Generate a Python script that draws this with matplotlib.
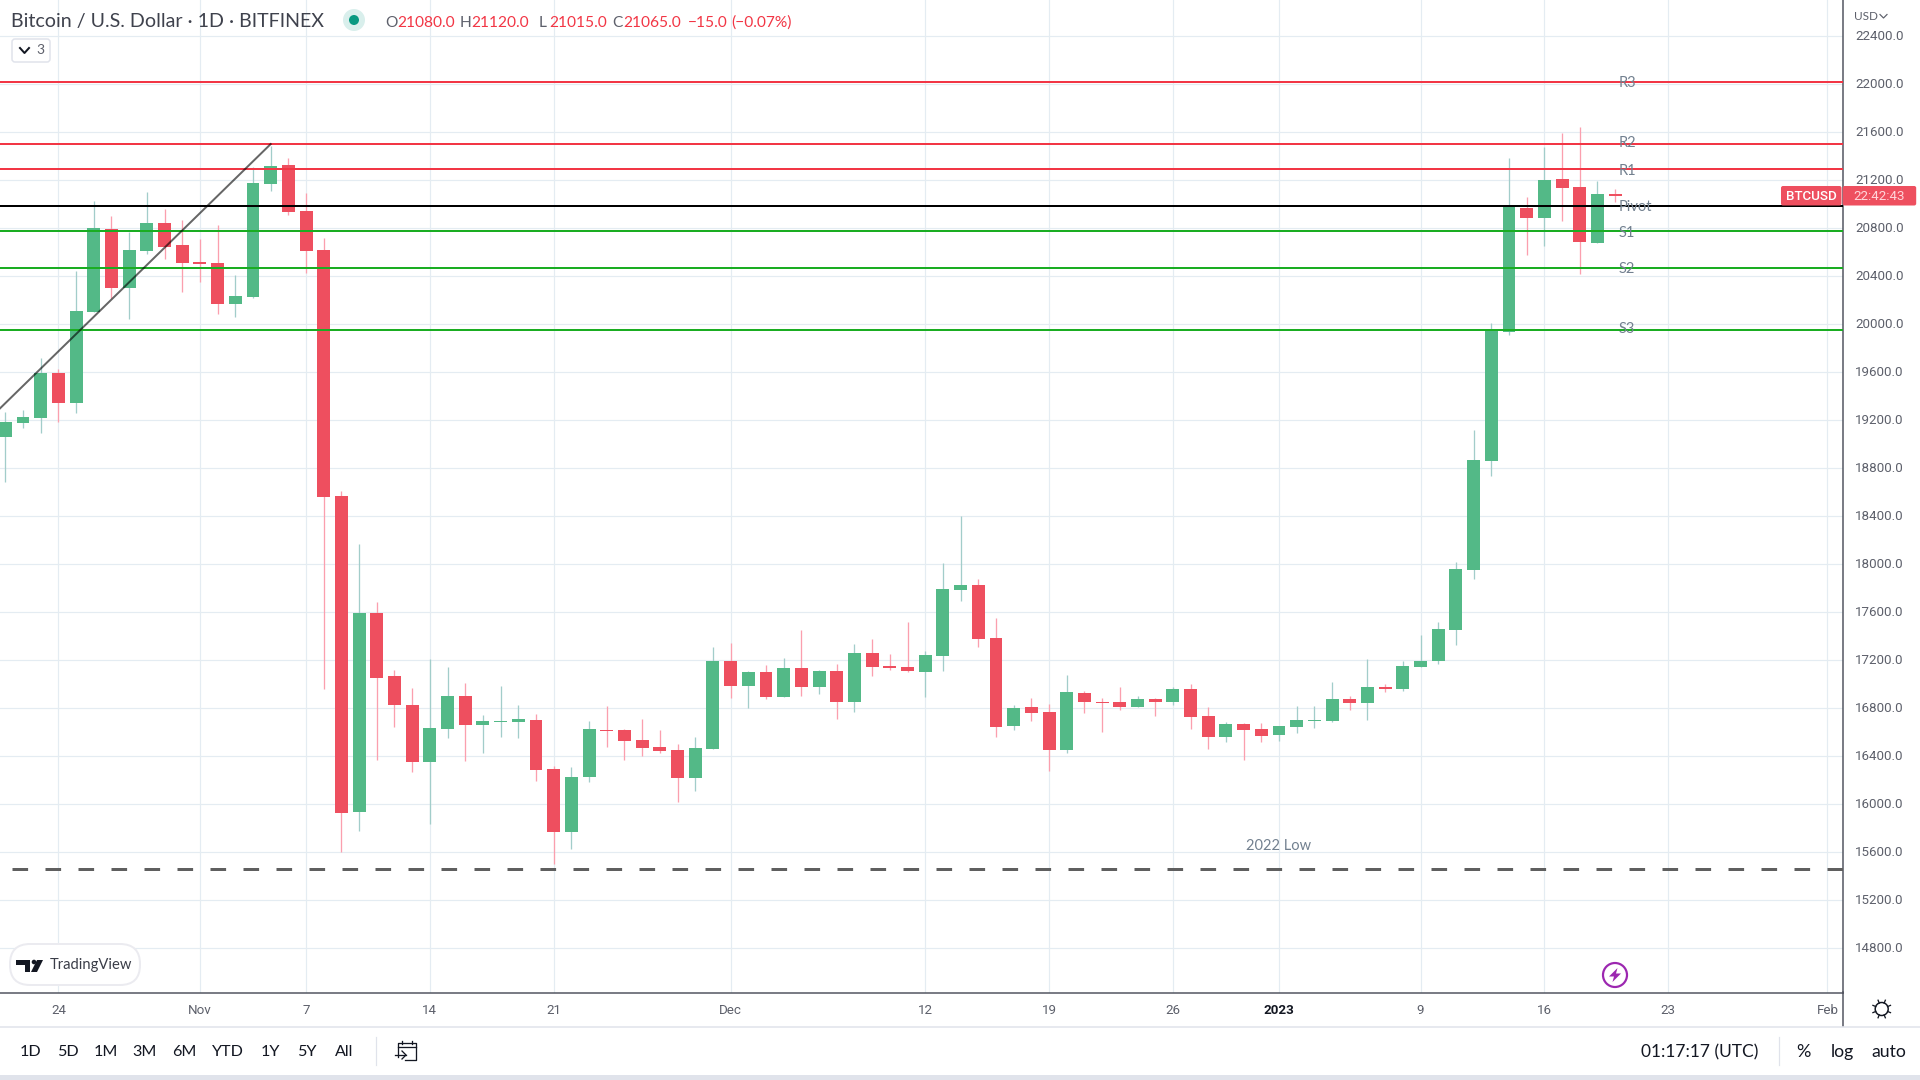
import matplotlib
matplotlib.use('Agg')
import matplotlib.pyplot as plt
import matplotlib.dates as mdates
import matplotlib.transforms as mtransforms
import numpy as np
import pandas as pd
from matplotlib.patches import Circle, FancyBboxPatch, Polygon, Rectangle

# daily candles, BTC/USD Bitfinex
first_day = '2022-10-21'
opens = [19058, 19175, 19217, 19589, 19342, 20097, 20789, 20297, 20606, 20839, 20656, 20514, 20506, 20164, 20222,
         21164, 21322, 20939, 20614, 18564, 15931, 17589, 17064, 16822, 16347, 16622, 16897, 16656, 16681, 16681,
         16697, 16289, 15764, 16222, 16614, 16614, 16531, 16472, 16447, 16214, 16456, 17189, 16981, 17097, 16889,
         17131, 16972, 17106, 16847, 17256, 17147, 17139, 17097, 17231, 17781, 17822, 17381, 16647, 16806, 16764,
         16447, 16922, 16847, 16847, 16806, 16872, 16847, 16956, 16731, 16556, 16664, 16622, 16572, 16639, 16689,
         16689, 16872, 16839, 16972, 16956, 17139, 17189, 17447, 17947, 18856, 19933, 20964, 20881, 21206, 21139,
         20672, 21080]
highs = [19264, 19281, 19711, 19622, 20439, 21022, 20897, 20767, 21097, 20956, 20864, 20706, 20822, 20406, 21303,
         21481, 21381, 21089, 20714, 18606, 18164, 17681, 17114, 16964, 17206, 17139, 17006, 16739, 16981, 16822,
         16747, 16314, 16306, 16689, 16814, 16622, 16706, 16614, 16497, 16556, 17306, 17339, 17106, 17156, 17214,
         17447, 17114, 17164, 17331, 17372, 17247, 17514, 17272, 18006, 18397, 17872, 17547, 16822, 16881, 16831,
         17072, 16939, 16881, 16972, 16897, 16881, 16972, 16997, 16806, 16681, 16672, 16672, 16647, 16814, 16814,
         17014, 16897, 17206, 16997, 17189, 17406, 17514, 18014, 19114, 20006, 21381, 21056, 21472, 21589, 21639,
         21189, 21120]
lows = [18683, 19131, 19092, 19183, 19258, 20097, 20211, 20042, 20581, 20539, 20264, 20347, 20081, 20056, 20214,
        21106, 20906, 20422, 16959, 15600, 15775, 16364, 16639, 16264, 15831, 16547, 16356, 16422, 16556, 16547,
        16189, 15497, 15622, 16181, 16472, 16364, 16397, 16422, 16014, 16106, 16456, 16881, 16797, 16872, 16889,
        16897, 16914, 16706, 16764, 17064, 17114, 17097, 16889, 17106, 17689, 17306, 16556, 16614, 16689, 16272,
        16422, 16756, 16597, 16781, 16806, 16731, 16822, 16622, 16456, 16514, 16364, 16514, 16522, 16589, 16631,
        16681, 16781, 16697, 16931, 16939, 17139, 17164, 17322, 17872, 18731, 19906, 20572, 20647, 20856, 20414,
        20672, 21015]
closes = [19181, 19222, 19589, 19342, 20106, 20797, 20297, 20614, 20839, 20639, 20506, 20497, 20164, 20231, 21172,
          21314, 20931, 20606, 18559, 15925, 17589, 17047, 16822, 16347, 16631, 16897, 16656, 16689, 16689, 16706,
          16281, 15764, 16222, 16622, 16606, 16522, 16464, 16439, 16214, 16464, 17189, 16981, 17097, 16889, 17131,
          16972, 17106, 16847, 17256, 17139, 17131, 17106, 17239, 17789, 17822, 17372, 16639, 16797, 16756, 16447,
          16931, 16847, 16839, 16806, 16872, 16847, 16956, 16722, 16556, 16664, 16614, 16564, 16647, 16697, 16697,
          16872, 16839, 16972, 16956, 17147, 17189, 17456, 17956, 18864, 19948, 20981, 20881, 21197, 21131, 20681,
          21081, 21065]

level_names = ['R3', 'R2', 'R1', 'Pivot', 'S1', 'S2', 'S3']
level_prices = [22017, 21497, 21289, 20981, 20773, 20464, 19947]
level_colors = ['#f23645', '#f23645', '#f23645', '#000000', '#1aad22', '#1aad22', '#1aad22']
level_text_offset = [1, -1, 2, 1, 2, 1, -1]
low_2022 = 15453

price_ticks = list(range(14800, 22800, 400))
date_ticks = ['2022-10-24', '2022-11-01', '2022-11-07', '2022-11-14', '2022-11-21', '2022-12-01', '2022-12-12',
              '2022-12-19', '2022-12-26', '2023-01-01', '2023-01-09', '2023-01-16', '2023-01-23', '2023-02-01']
date_labels = ['24', 'Nov', '7', '14', '21', 'Dec', '12', '19', '26', '2023', '9', '16', '23', 'Feb']

GREEN = '#53b987'
RED = '#ee4f5f'
GREEN_WICK = '#a2cdca'
RED_WICK = '#fb9fae'
GRID = '#e4ecf2'
AXIS = '#50535e'
LABEL = '#72808f'
TEXT = '#5d606b'
DARK = '#131722'
PX = 72 / 100

plt.rcParams['font.family'] = ['Roboto', 'DejaVu Sans']

fig = plt.figure(figsize=(19.2, 10.8), dpi=100, facecolor='white')
ax = fig.add_axes([0, 1 - 992.5 / 1080, 1843 / 1920, 992.5 / 1080])

x = mdates.date2num(pd.date_range(first_day, periods=len(opens)))
o = np.array(opens)
c = np.array(closes)
up = c >= o
x0 = mdates.date2num(pd.Timestamp('2022-10-24'))

ax.vlines(x[up], np.array(lows)[up], np.array(highs)[up], color=GREEN_WICK, lw=1.3 * PX, zorder=3)
ax.vlines(x[~up], np.array(lows)[~up], np.array(highs)[~up], color=RED_WICK, lw=1.3 * PX, zorder=3)
ax.bar(x[up], (c - o)[up], bottom=o[up], width=0.73, color=GREEN, lw=0, zorder=4)
ax.bar(x[~up], (o - c)[~up], bottom=c[~up], width=0.73, color=RED, lw=0, zorder=4)

for price, col in zip(level_prices, level_colors):
    ax.axhline(price, color=col, lw=2 * PX, zorder=5)
for name, price, off in zip(level_names, level_prices, level_text_offset):
    ax.annotate(name, (x0 + 88.2, price), xytext=(0, -off * PX), textcoords='offset points', va='center', ha='left',
                color=LABEL, fontsize=10.5, family='Lato', zorder=6)

ax.axhline(low_2022, color='#5f5f5f', lw=3 * PX, linestyle=(7, (5.2, 5.8)), zorder=5)
ax.text(x0 + 68.95, 15645, '2022 Low', color=LABEL, fontsize=10.5, family='Lato', ha='center', va='center')

# trend line up to the November high
ax.plot([x0 - 3.3, x0 + 12], [19295, 21497], color='#000000', alpha=0.6, lw=2 * PX, zorder=6)

ax.set_xlim(x0 - 3.3, x0 + 100.88)
ax.set_ylim(14428, 22697.5)
ax.set_yticks(price_ticks)
ax.set_yticklabels(['%.1f' % p for p in price_ticks])
ax.set_xticks(mdates.date2num(pd.to_datetime(date_ticks)))
ax.set_xticklabels(date_labels)
ax.yaxis.tick_right()
ax.tick_params(axis='both', length=0, colors=TEXT, labelsize=9.6)
ax.tick_params(axis='x', pad=8.2)
ax.tick_params(axis='y', pad=8.6)
ax.get_xticklabels()[9].set_fontweight('bold')
ax.get_xticklabels()[9].set_color(DARK)
nudge = mtransforms.ScaledTranslation(0, 1.2 / 100, fig.dpi_scale_trans)
for lab in ax.get_yticklabels():
    lab.set_transform(lab.get_transform() + nudge)
ax.grid(True, color=GRID, lw=1.2 * PX, zorder=0)
ax.set_axisbelow(True)
for side in ['top', 'left']:
    ax.spines[side].set_visible(False)
for side in ['right', 'bottom']:
    ax.spines[side].set_color(AXIS)
    ax.spines[side].set_linewidth(1.5 * PX)

# page furniture around the chart, in pixel coordinates
ui = fig.add_axes([0, 0, 1, 1], facecolor='none')
ui.set_xlim(0, 1920)
ui.set_ylim(1080, 0)
ui.axis('off')

ui.text(11, 22, 'Bitcoin / U.S. Dollar · 1D · BITFINEX', family='Lato', fontsize=14.1, color='#3f424d', va='center')
ui.add_patch(Circle((354, 20), 11, color='#d9efec', lw=0))
ui.add_patch(Circle((354, 20), 5, color='#089981', lw=0))

ohlc_x = [385, 397, 460, 471, 539, 549, 612, 623, 688, 731]
ohlc_text = ['O', '21080.0', 'H', '21120.0', 'L', '21015.0', 'C', '21065.0', '−15.0', '(−0.07%)']
for i in range(len(ohlc_x)):
    col = TEXT if ohlc_text[i] in 'OHLC' else '#f23645'
    ui.text(ohlc_x[i], 23, ohlc_text[i], fontsize=11.2, color=col, va='center', family='Lato')

ui.add_patch(FancyBboxPatch((12, 39), 38, 23, boxstyle='round,pad=0,rounding_size=3', fc='white', ec='#e0e3eb',
                            lw=1.5 * PX))
ui.plot([20, 24.5, 29], [48, 53, 48], color=DARK, lw=2 * PX)
ui.text(40, 50, '3', fontsize=10, color=TEXT, ha='center', va='center', family='Lato')

ui.text(1854, 16, 'USD', fontsize=8.5, color=TEXT, va='center', family='Lato')
ui.plot([1880, 1883.5, 1887], [14.5, 18, 14.5], color=TEXT, lw=1.2 * PX)

ui.add_patch(FancyBboxPatch((1781, 186), 60.5, 19.5, boxstyle='round,pad=0,rounding_size=2', fc=RED, ec='none'))
ui.add_patch(FancyBboxPatch((1842.7, 186), 73.5, 19.5, boxstyle='round,pad=0,rounding_size=2', fc=RED, ec='none'))
ui.text(1811, 196, 'BTCUSD', fontsize=9.6, color='white', ha='center', va='center', weight='medium')
ui.text(1879, 196, '22:42:43', fontsize=9.6, color='#ffd5da', ha='center', va='center')

# TradingView badge
ui.add_patch(FancyBboxPatch((10, 944), 130, 41, boxstyle='round,pad=0,rounding_size=20', fc='white', ec='#ebebf0',
                            lw=2 * PX, zorder=5))
ui.add_patch(Polygon([(16, 960), (30, 960), (30, 972), (25, 972), (25, 964.5), (16, 964.5)], fc=DARK, ec='none',
                     zorder=6))
ui.add_patch(Circle((34, 962), 2.3, fc=DARK, ec='none', zorder=6))
ui.add_patch(Polygon([(37, 960), (43, 960), (37, 972), (31, 972)], fc=DARK, ec='none', zorder=6))
ui.text(50, 965.5, 'TradingView', fontsize=10.6, color='#3a3d48', va='center', family='Lato', zorder=6)

# lightning marker
ui.add_patch(Circle((1615, 975), 12, fc='white', ec='#9c27b0', lw=2.2 * PX))
ui.add_patch(Polygon([(1617.5, 968), (1609, 976.5), (1614, 976.5), (1612.5, 982), (1621, 973.5), (1616, 973.5)],
                     fc='#9c27b0', ec='none'))

# settings wheel on the axis corner
ui.add_patch(Circle((1881.7, 1009), 6.5, fc='white', ec=DARK, lw=1.5 * PX))
for a in np.arange(0, 360, 45):
    r = np.radians(a + 22.5)
    ui.plot([1881.7 + 6.5 * np.cos(r), 1881.7 + 9.5 * np.cos(r)], [1009 + 6.5 * np.sin(r), 1009 + 9.5 * np.sin(r)],
            color=DARK, lw=1.3 * PX)

# bottom toolbar
ui.plot([1843, 1843], [992, 1026], color=AXIS, lw=1.5 * PX)
ui.plot([0, 1920], [1026.5, 1026.5], color='#e0e3eb', lw=1.5 * PX)
ui.add_patch(Rectangle((0, 1075), 1920, 5, fc='#e0e3eb', ec='none'))
ui.plot([375.5, 375.5], [1037, 1065], color='#e0e3eb', lw=1.2 * PX)
ui.plot([1779, 1779], [1037, 1065], color='#e0e3eb', lw=1.2 * PX)

range_names = ['1D', '5D', '1M', '3M', '6M', 'YTD', '1Y', '5Y', 'All']
range_x = [30.6, 67.8, 106, 145, 184, 228, 270.6, 307, 344]
for name, pos in zip(range_names, range_x):
    ui.text(pos, 1051.5, name, fontsize=11.6, color=DARK, ha='center', va='center', family='Lato')

ui.plot([398, 398, 416, 416, 405], [1057, 1043, 1043, 1060, 1060], color=DARK, lw=1.3 * PX)
ui.plot([398, 416], [1047, 1047], color=DARK, lw=1.3 * PX)
ui.plot([402, 402], [1041, 1044], color=DARK, lw=1.3 * PX)
ui.plot([412, 412], [1041, 1044], color=DARK, lw=1.3 * PX)
ui.plot([395, 406], [1055, 1055], color=DARK, lw=1.3 * PX)
ui.plot([402, 406, 402], [1051, 1055, 1059], color=DARK, lw=1.3 * PX)

ui.text(1641, 1052, '01:17:17 (UTC)', fontsize=12.5, color=DARK, va='center', family='Lato')
ui.text(1803, 1052, '%', fontsize=13, color=DARK, ha='center', va='center', family='Lato')
ui.text(1842, 1052, 'log', fontsize=12.7, color=DARK, ha='center', va='center', family='Lato')
ui.text(1889, 1052, 'auto', fontsize=12.7, color=DARK, ha='center', va='center', family='Lato')

fig.savefig('out.png', dpi=100)
